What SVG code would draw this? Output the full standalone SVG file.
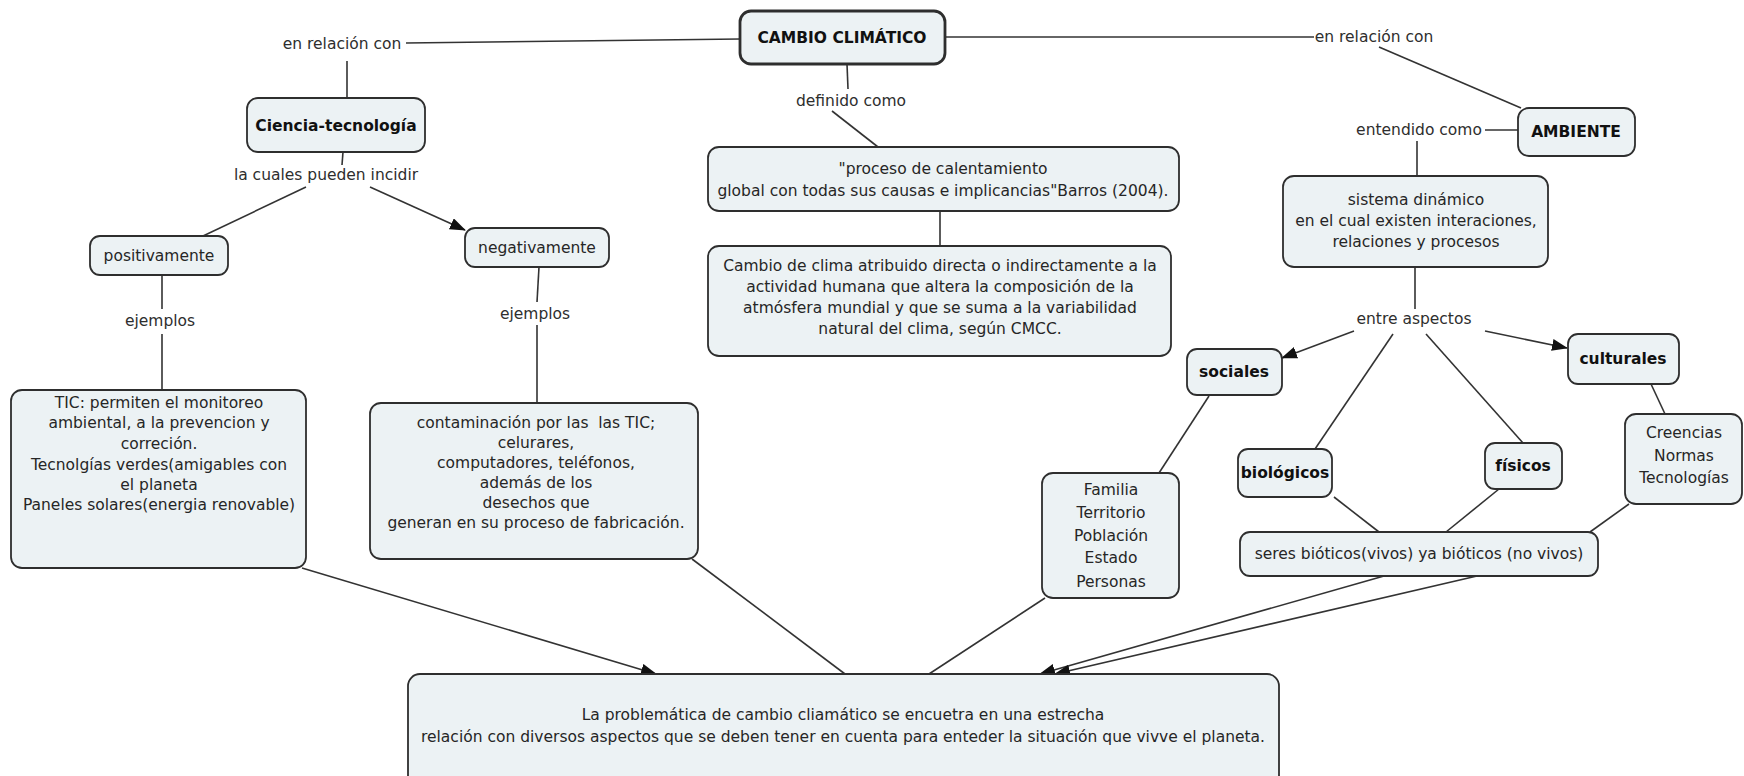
<svg xmlns="http://www.w3.org/2000/svg" width="1744" height="776" viewBox="0 0 1744 776">
<style>
.node rect{fill:#ecf2f4;stroke:#2e2e2e;stroke-width:1.8}
.main rect{stroke-width:2.8}
text{font-family:"DejaVu Sans","Noto Sans",sans-serif;font-size:15.5px;fill:#262626;text-anchor:middle;dominant-baseline:central}
.b{font-weight:bold;fill:#111}
.lbl{fill:#2e2e2e}
.pre{white-space:pre}
#connectors path{fill:none;stroke:#333;stroke-width:1.6}
</style>
<defs>
<marker id="arr" markerWidth="16" markerHeight="12" refX="15" refY="6" orient="auto" markerUnits="userSpaceOnUse">
<path d="M0,0 L16,6 L0,12 Z" fill="#111"/>
</marker>
</defs>
<rect width="1744" height="776" fill="#ffffff"/>
<g id="connectors">
<path d="M406,43 L740,39"/>
<path d="M347,61 L347,98"/>
<path d="M343,152 L342,165"/>
<path d="M306,187 L203,236"/>
<path d="M370,187 L465,230" marker-end="url(#arr)"/>
<path d="M162,275 L162,309"/>
<path d="M162,334 L162,390"/>
<path d="M539,267 L537,302"/>
<path d="M537,325 L537,403"/>
<path d="M847,64 L848,89"/>
<path d="M832,111 L878,147"/>
<path d="M940,211 L940,246"/>
<path d="M945,37 L1314,37"/>
<path d="M1379,47 L1521,108"/>
<path d="M1485,130 L1518,130"/>
<path d="M1417,141 L1417,176"/>
<path d="M1415,267 L1415,309"/>
<path d="M1354,331 L1282,358" marker-end="url(#arr)"/>
<path d="M1393,334 L1315,449"/>
<path d="M1426,334 L1523,443"/>
<path d="M1485,331 L1567,348" marker-end="url(#arr)"/>
<path d="M1209,396 L1159,473"/>
<path d="M1651,384 L1665,414"/>
<path d="M1334,497 L1379,532"/>
<path d="M1499,489 L1446,532"/>
<path d="M1629,504 L1590,532"/>
<path d="M1384,576 L1040,674" marker-end="url(#arr)"/>
<path d="M1477,576 L1055,674" marker-end="url(#arr)"/>
<path d="M302,568 L656,674" marker-end="url(#arr)"/>
<path d="M692,559 L845,674"/>
<path d="M1045,598 L929,674"/>
</g>
<g id="labels">
<text class="lbl" x="342" y="44">en relación con</text>
<text class="lbl" x="326" y="175">la cuales pueden incidir</text>
<text class="lbl" x="160" y="321">ejemplos</text>
<text class="lbl" x="535" y="314">ejemplos</text>
<text class="lbl" x="851" y="101">definido como</text>
<text class="lbl" x="1374" y="37">en relación con</text>
<text class="lbl" x="1419" y="130">entendido como</text>
<text class="lbl" x="1414" y="319">entre aspectos</text>
</g>
<g id="cambio" class="node main">
<rect x="740" y="11" width="205" height="53" rx="11"/>
<text class="b" x="842" y="38">CAMBIO CLIMÁTICO</text>
</g>
<g id="ciencia" class="node">
<rect x="247" y="98" width="178" height="54" rx="11"/>
<text class="b" x="336" y="126">Ciencia-tecnología</text>
</g>
<g id="positivamente" class="node">
<rect x="90" y="236" width="138" height="39" rx="10"/>
<text x="159" y="256">positivamente</text>
</g>
<g id="negativamente" class="node">
<rect x="465" y="228" width="144" height="39" rx="10"/>
<text x="537" y="248">negativamente</text>
</g>
<g id="tic" class="node">
<rect x="11" y="390" width="295" height="178" rx="11"/>
<text x="159" y="403">TIC: permiten el monitoreo</text>
<text x="159" y="423">ambiental, a la prevencion y</text>
<text x="159" y="444">correción.</text>
<text x="159" y="465">Tecnolgías verdes(amigables con</text>
<text x="159" y="485">el planeta</text>
<text x="159" y="505">Paneles solares(energia renovable)</text>
</g>
<g id="contaminacion" class="node">
<rect x="370" y="403" width="328" height="156" rx="11"/>
<text class="pre" x="536" y="423">contaminación por las  las TIC;</text>
<text x="536" y="443">celurares,</text>
<text x="536" y="463">computadores, teléfonos,</text>
<text x="536" y="483">además de los</text>
<text x="536" y="503">desechos que</text>
<text x="536" y="523">generan en su proceso de fabricación.</text>
</g>
<g id="proceso" class="node">
<rect x="708" y="147" width="471" height="64" rx="11"/>
<text x="943" y="169">"proceso de calentamiento</text>
<text x="943" y="191">global con todas sus causas e implicancias"Barros (2004).</text>
</g>
<g id="cambio-clima" class="node">
<rect x="708" y="246" width="463" height="110" rx="11"/>
<text x="940" y="266">Cambio de clima atribuido directa o indirectamente a la</text>
<text x="940" y="287">actividad humana que altera la composición de la</text>
<text x="940" y="308">atmósfera mundial y que se suma a la variabilidad</text>
<text x="940" y="329">natural del clima, según CMCC.</text>
</g>
<g id="ambiente" class="node">
<rect x="1518" y="108" width="117" height="48" rx="11"/>
<text class="b" x="1576" y="132">AMBIENTE</text>
</g>
<g id="sistema" class="node">
<rect x="1283" y="176" width="265" height="91" rx="11"/>
<text x="1416" y="200">sistema dinámico</text>
<text x="1416" y="221">en el cual existen interaciones,</text>
<text x="1416" y="242">relaciones y procesos</text>
</g>
<g id="sociales" class="node">
<rect x="1187" y="349" width="95" height="46" rx="10"/>
<text class="b" x="1234" y="372">sociales</text>
</g>
<g id="culturales" class="node">
<rect x="1568" y="334" width="111" height="50" rx="10"/>
<text class="b" x="1623" y="359">culturales</text>
</g>
<g id="biologicos" class="node">
<rect x="1238" y="449" width="94" height="48" rx="10"/>
<text class="b" x="1285" y="473">biológicos</text>
</g>
<g id="fisicos" class="node">
<rect x="1485" y="443" width="77" height="46" rx="10"/>
<text class="b" x="1523" y="466">físicos</text>
</g>
<g id="familia" class="node">
<rect x="1042" y="473" width="137" height="125" rx="11"/>
<text x="1111" y="490">Familia</text>
<text x="1111" y="513">Territorio</text>
<text x="1111" y="536">Población</text>
<text x="1111" y="558">Estado</text>
<text x="1111" y="582">Personas</text>
</g>
<g id="creencias" class="node">
<rect x="1625" y="414" width="117" height="90" rx="11"/>
<text x="1684" y="433">Creencias</text>
<text x="1684" y="456">Normas</text>
<text x="1684" y="478">Tecnologías</text>
</g>
<g id="seres" class="node">
<rect x="1240" y="532" width="358" height="44" rx="10"/>
<text x="1419" y="554">seres bióticos(vivos) ya bióticos (no vivos)</text>
</g>
<g id="problematica" class="node">
<rect x="408" y="674" width="871" height="120" rx="12"/>
<text x="843" y="715">La problemática de cambio cliamático se encuetra en una estrecha</text>
<text x="843" y="737">relación con diversos aspectos que se deben tener en cuenta para enteder la situación que vivve el planeta.</text>
</g>
</svg>
